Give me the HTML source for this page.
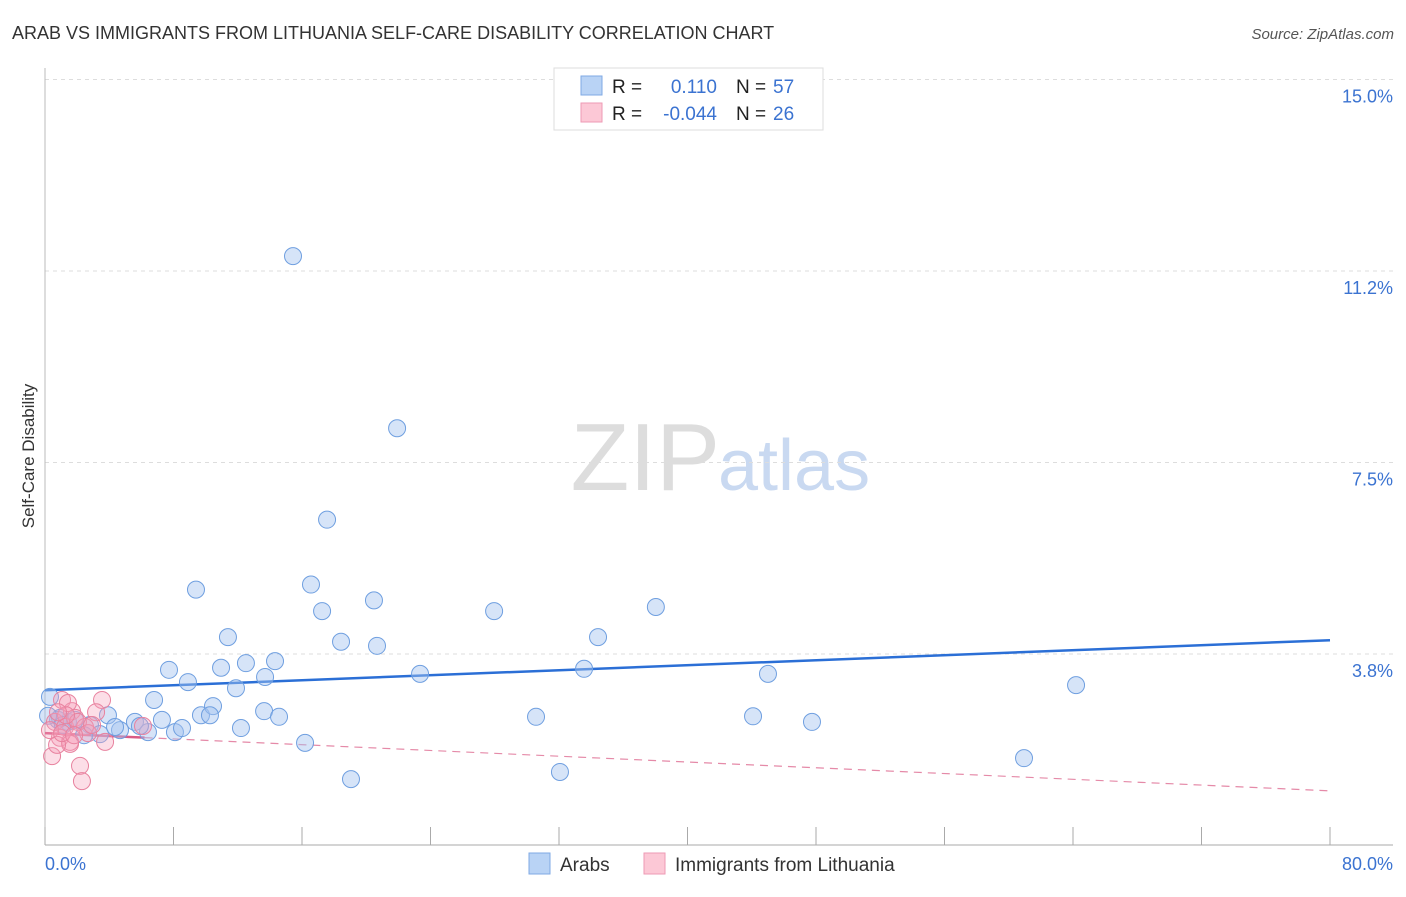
<!DOCTYPE html>
<html><head><meta charset="utf-8"><style>
body{margin:0;background:#fff;font-family:"Liberation Sans",sans-serif;}
svg text{font-family:"Liberation Sans",sans-serif;}
</style></head><body>
<svg width="1406" height="892" xmlns="http://www.w3.org/2000/svg" id="chart">
<text x="12" y="39" font-size="18" fill="#333">ARAB VS IMMIGRANTS FROM LITHUANIA SELF-CARE DISABILITY CORRELATION CHART</text>
<text x="1394" y="39" font-size="15" fill="#555" text-anchor="end" font-style="italic">Source: ZipAtlas.com</text>
<text x="34" y="456" font-size="17" fill="#333" text-anchor="middle" transform="rotate(-90 34 456)">Self-Care Disability</text>
<text x="720" y="490" font-size="96" fill="#ddd" text-anchor="end" font-family="Liberation Serif">ZIP</text>
<text x="718" y="490" font-size="72" fill="#c9d9f1">atlas</text>
<g id="grid"></g>
<g id="axes"></g>
<g id="trend"></g>
<g id="pts"></g>
<g>
<rect x="554" y="68" width="269" height="62" fill="#fff" stroke="#ddd"/>
<rect x="581" y="76" width="21" height="19" fill="#b9d3f5" stroke="#7fa9e4"/>
<rect x="581" y="103" width="21" height="19" fill="#fcc8d6" stroke="#ee9ab4"/>
<text x="612" y="93" font-size="19" fill="#222">R = </text><text x="717" y="93" font-size="19" fill="#3b73d1" text-anchor="end">0.110</text>
<text x="736" y="93" font-size="19" fill="#222">N = </text><text x="773" y="93" font-size="19" fill="#3b73d1">57</text>
<text x="612" y="120" font-size="19" fill="#222">R = </text><text x="717" y="120" font-size="19" fill="#3b73d1" text-anchor="end">-0.044</text>
<text x="736" y="120" font-size="19" fill="#222">N = </text><text x="773" y="120" font-size="19" fill="#3b73d1">26</text>
</g>
<g>
<rect x="529" y="853" width="21" height="21" fill="#b9d3f5" stroke="#7fa9e4"/>
<text x="560" y="871" font-size="19" fill="#333">Arabs</text>
<rect x="644" y="853" width="21" height="21" fill="#fcc8d6" stroke="#ee9ab4"/>
<text x="675" y="871" font-size="19" fill="#333">Immigrants from Lithuania</text>
</g>
</svg>
<script>
const yTicks=[3.75,7.5,11.25,15];
const yTickLabels=["3.8%","7.5%","11.2%","15.0%"];
const xTicks=[0,8,16,24,32,40,48,56,64,72,80];
const xEndLabels=["0.0%","80.0%"];
const arabX=[15.44,21.92,17.56,9.40,16.56,20.48,17.25,27.96,38.03,11.39,18.43,20.67,34.43,7.72,10.96,12.51,14.32,23.35,33.56,45.01,8.90,11.89,13.70,64.19,6.79,0.31,3.92,9.71,10.46,10.27,13.64,14.57,30.57,44.08,47.75,7.28,5.60,2.80,1.43,0.81,4.67,4.36,3.42,2.43,6.41,8.09,8.53,12.20,5.91,16.19,19.05,32.06,60.95,0.93,1.87,1.12,0.19];
const arabY=[11.54,8.17,6.38,5.01,5.11,4.80,4.59,4.59,4.67,4.08,3.99,3.91,4.08,3.44,3.48,3.57,3.61,3.36,3.46,3.36,3.20,3.08,3.30,3.14,2.85,2.91,2.55,2.55,2.73,2.55,2.63,2.52,2.52,2.53,2.42,2.46,2.42,2.36,2.42,2.46,2.26,2.32,2.18,2.16,2.22,2.22,2.30,2.30,2.34,2.01,1.30,1.44,1.71,2.50,2.46,2.36,2.54];
const lithX=[1.06,3.55,1.68,3.18,0.62,1.25,1.87,2.49,0.93,1.56,0.44,2.18,2.30,1.56,3.74,0.75,1.43,2.05,0.31,2.68,1.06,2.93,6.10,1.31,1.81,0.81];
const lithY=[2.85,2.85,2.63,2.61,2.42,2.32,2.50,2.32,2.11,2.03,1.75,1.56,1.26,1.99,2.03,1.97,2.79,2.42,2.26,2.20,2.20,2.36,2.34,2.55,2.16,2.61];
const arabTrend=[3.04,4.02];
const lithTrend=[2.20,1.07];
const lithSolidEnd=6.2;

const NS="http://www.w3.org/2000/svg";
const sx=v=>45+v/80*1285;
const sy=v=>845.5-v*51.07;
function mk(tag,attrs,parent){const e=document.createElementNS(NS,tag);for(const k in attrs)e.setAttribute(k,attrs[k]);document.getElementById(parent).appendChild(e);return e;}
yTicks.forEach((t,i)=>{
 const l=mk('line',{x1:45,x2:1393,y1:sy(t),y2:sy(t),stroke:'#ddd','stroke-dasharray':'4,4'},'grid');
 
 
 const tx=mk('text',{x:1393,y:sy(t)+23,'font-size':18,fill:'#3b73d1','text-anchor':'end'},'grid');
 tx.textContent=yTickLabels[i];
 
 
});
const ya=mk('line',{x1:45,x2:45,y1:68,y2:845,stroke:'#bbb'},'axes');


const xa=mk('line',{x1:45,x2:1393,y1:845,y2:845,stroke:'#aaa'},'axes');


xTicks.forEach(t=>{
 const l=mk('line',{x1:sx(t),x2:sx(t),y1:827,y2:845,stroke:'#aaa'},'axes');
 
 
});
const xl0=mk('text',{x:45,y:870,'font-size':18,fill:'#3b73d1'},'axes');
xl0.textContent=xEndLabels[0];


const xl1=mk('text',{x:1393,y:870,'font-size':18,fill:'#3b73d1','text-anchor':'end'},'axes');
xl1.textContent=xEndLabels[1];



arabX.forEach((x,i)=>{
 const c=mk('circle',{cx:sx(x),cy:sy(arabY[i]),r:8.5,fill:'rgba(164,196,240,0.45)',stroke:'#6f9fe0','stroke-width':1},'pts');
 
 
});
lithX.forEach((x,i)=>{
 const c=mk('circle',{cx:sx(x),cy:sy(lithY[i]),r:8.5,fill:'rgba(245,160,185,0.35)',stroke:'#e8829f','stroke-width':1},'pts');
 
 
});
const at=mk('line',{x1:sx(0),y1:sy(arabTrend[0]),x2:sx(80),y2:sy(arabTrend[1]),stroke:'#2b6fd6','stroke-width':2.5},'trend');


const ly=x=>lithTrend[0]+(lithTrend[1]-lithTrend[0])*x/80;
const ls=mk('line',{x1:sx(0),y1:sy(ly(0)),x2:sx(lithSolidEnd),y2:sy(ly(lithSolidEnd)),stroke:'#d95b86','stroke-width':2.5},'trend');


const ld=mk('line',{x1:sx(lithSolidEnd),y1:sy(ly(lithSolidEnd)),x2:sx(80),y2:sy(ly(80)),stroke:'#e58aa8','stroke-width':1.2,'stroke-dasharray':'8,6'},'trend');


</script>
</body></html>
